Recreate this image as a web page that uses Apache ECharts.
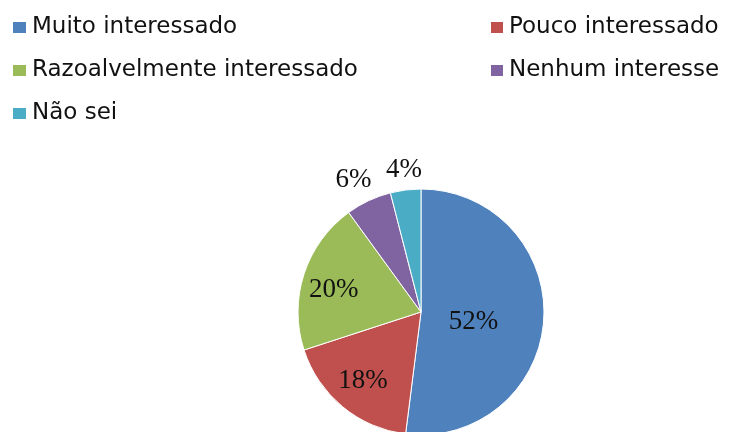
<!DOCTYPE html>
<html>
<head>
<meta charset="utf-8">
<script src="https://cdn.jsdelivr.net/npm/echarts@6/dist/echarts.min.js"></script>
<style>
  html, body { margin: 0; padding: 0; background: #fff; }
  #chart { width: 731px; height: 432px; }
</style>
</head>
<body>
<div id="chart"></div>
<script>
// dados do gráfico
const categorias = ['Muito interessado', 'Pouco interessado', 'Razoalvelmente interessado', 'Nenhum interesse', 'Não sei'];
const valores = [52, 18, 20, 6, 4];
const cores = ['#4F81BD', '#C0504D', '#9BBB59', '#8064A2', '#4BACC6'];
// deslocamento de cada rótulo em relação ao meio da fatia
const deslocRotulo = [[-12, 6], [-17, 19], [-26, -2], [-40, -74], [-9, -78]];

const chart = echarts.init(document.getElementById('chart'));

const legendaTexto = {
  fontFamily: 'DejaVu Sans',
  fontSize: 23,
  lineHeight: 23,
  color: '#111'
};

const data = categorias.map(function (nome, i) {
  return {
    name: nome,
    value: valores[i],
    itemStyle: { color: cores[i] },
    label: { offset: deslocRotulo[i] }
  };
});

const option = {
  animation: false,
  legend: [{
    orient: 'vertical',
    left: 11,
    top: 16,
    padding: 0,
    itemWidth: 15,
    itemHeight: 13,
    itemGap: 20,
    icon: 'rect',
    textStyle: legendaTexto,
    data: [categorias[0], categorias[2], categorias[4]]
  }, {
    orient: 'vertical',
    left: 489,
    top: 16,
    padding: 0,
    itemWidth: 14,
    itemHeight: 13,
    itemGap: 20,
    icon: 'rect',
    textStyle: legendaTexto,
    data: [categorias[1], categorias[3]]
  }],
  series: [{
    name: 'Interesse',
    type: 'pie',
    center: [421, 312],
    radius: 123,
    startAngle: 90,
    clockwise: true,
    avoidLabelOverlap: false,
    itemStyle: {
      borderColor: '#fff',
      borderWidth: 1
    },
    label: {
      show: true,
      position: 'inside',
      formatter: '{c}%',
      fontFamily: 'Liberation Serif',
      fontSize: 27,
      color: '#111'
    },
    labelLine: { show: false },
    emphasis: { disabled: true },
    data: data
  }]
};

chart.setOption(option);
</script>
</body>
</html>
